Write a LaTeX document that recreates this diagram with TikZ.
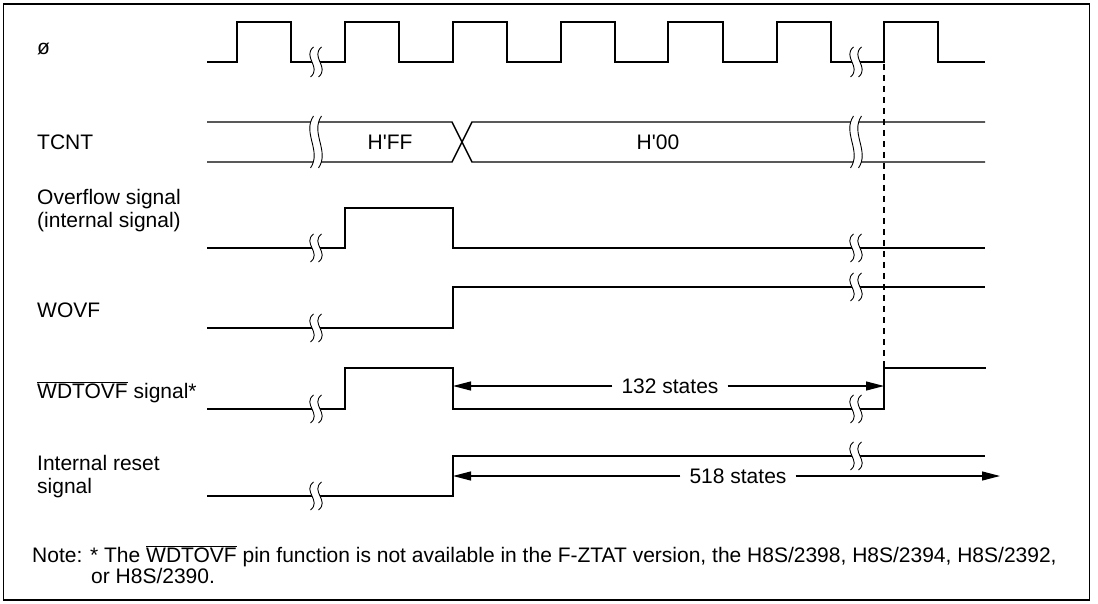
\documentclass[tikz,border=0pt]{standalone}
\usepackage{fontspec}
\defaultfontfeatures[\rmfamily]{}
\setmainfont{Liberation Sans}
\usetikzlibrary{arrows.meta}
\newcommand\ovl[1]{\ensuremath{\overline{\mbox{#1}}}}
\newcommand\brk[3]{%
  \begin{scope}[shift={(#1,#2)},yscale=#3]
    \fill[white] (-2.5,-1) .. controls (-14,-0.35) and (6,0.35) .. (-5.5,1) -- (2.5,1) .. controls (14,0.35) and (-6,-0.35) .. (5.5,-1) -- cycle;
    \draw[brkline] (-2.5,-1) .. controls (-14,-0.35) and (6,0.35) .. (-5.5,1);
    \draw[brkline] (5.5,-1) .. controls (-6,-0.35) and (14,0.35) .. (2.5,1);
  \end{scope}}
\begin{document}
\begin{tikzpicture}[x=1pt,y=-1pt,
  sig/.style={line width=1.4pt, line join=miter},
  brkline/.style={line width=0.9pt},
  lbl/.style={font=\fontsize{21}{24}\selectfont, inner sep=0pt, anchor=base west},
  val/.style={font=\fontsize{21}{24}\selectfont, inner sep=0pt},
  note/.style={font=\fontsize{21}{24}\selectfont, inner sep=0pt, anchor=base west},
  arr/.style={line width=1.2pt, -{Triangle[length=18pt,width=9pt]}},
  dsh/.style={line width=1.1pt, dash pattern=on 6pt off 5pt}]
\useasboundingbox (0,0) rectangle (1098,604);
\draw[line width=1.5pt] (3.5,4) rectangle (1089.5,600);

% labels
\node[lbl] (lphi) at (37,55) {ø};
\node[lbl] (ltcnt) at (37,150) {TCNT};
\node[lbl] (lovf1) at (37,204.5) {Overflow signal};
\node[lbl] (lovf2) at (37,228) {(internal signal)};
\node[lbl] (lwovf) at (37,317) {WOVF};
\node[lbl] (lwdt) at (37,398) {\ovl{WDTOVF} signal*};
\node[lbl] (lrst1) at (37,470) {Internal reset};
\node[lbl] (lrst2) at (37,493) {signal};

% clock
\draw[sig] (207,62) -- (237,62) -- (237,22) -- (291,22) -- (291,62)
  -- (345,62) -- (345,22) -- (399,22) -- (399,62)
  -- (453,62) -- (453,22) -- (507,22) -- (507,62)
  -- (561,62) -- (561,22) -- (615,22) -- (615,62)
  -- (668,62) -- (668,22) -- (723,22) -- (723,62)
  -- (777,62) -- (777,22) -- (831,22) -- (831,62)
  -- (884,62) -- (884,22) -- (938,22) -- (938,62) -- (985,62);
\brk{316}{62}{15}
\brk{856}{62}{15}

% TCNT
\draw[sig] (207,122) -- (452,122) -- (472,162) -- (985,162);
\draw[sig] (207,162) -- (452,162) -- (472,122) -- (985,122);
\brk{316}{142}{26}
\brk{856}{142}{26}
\node[val] (vff) at (390,142) {H'FF};
\node[val] (v00) at (658,142) {H'00};

% Overflow
\draw[sig] (207,248) -- (345,248) -- (345,208) -- (453,208) -- (453,248) -- (985,248);
\brk{316}{248}{14}
\brk{856}{248}{14}

% WOVF
\draw[sig] (207,328) -- (453,328) -- (453,287) -- (985,287);
\brk{316}{328}{14}
\brk{856}{287}{14}

% WDTOVF
\draw[sig] (207,409) -- (345,409) -- (345,368) -- (453,368) -- (453,409) -- (884,409) -- (884,368) -- (986,368);
\brk{316}{409}{14}
\brk{856}{409}{14}

% Internal reset
\draw[sig] (207,496) -- (453,496) -- (453,456) -- (985,456);
\brk{316}{496}{14}
\brk{856}{456}{14}

% dashed reference line
\coordinate (dtop) at (884,64);
\coordinate (dbot) at (884,368);
\draw[dsh] (dtop) -- (dbot);

% 132 states
\coordinate (a1L) at (453,386);
\coordinate (a1R) at (884,386);
\node[val, inner xsep=9pt] (t132) at (670,386) {132 states};
\draw[arr] (t132.west) -- (a1L);
\draw[arr] (t132.east) -- (a1R);

% 518 states
\coordinate (a2L) at (453,476);
\coordinate (a2R) at (1000,476);
\node[val, inner xsep=9pt] (t518) at (738,476) {518 states};
\draw[arr] (t518.west) -- (a2L);
\draw[arr] (t518.east) -- (a2R);

% note
\node[note] (n1) at (32,562) {Note: * The \ovl{WDTOVF} pin function is not available in the F-ZTAT version, the H8S/2398, H8S/2394, H8S/2392,};
\node[note] (n2) at (91,583) {or H8S/2390.};
\end{tikzpicture}
\end{document}
